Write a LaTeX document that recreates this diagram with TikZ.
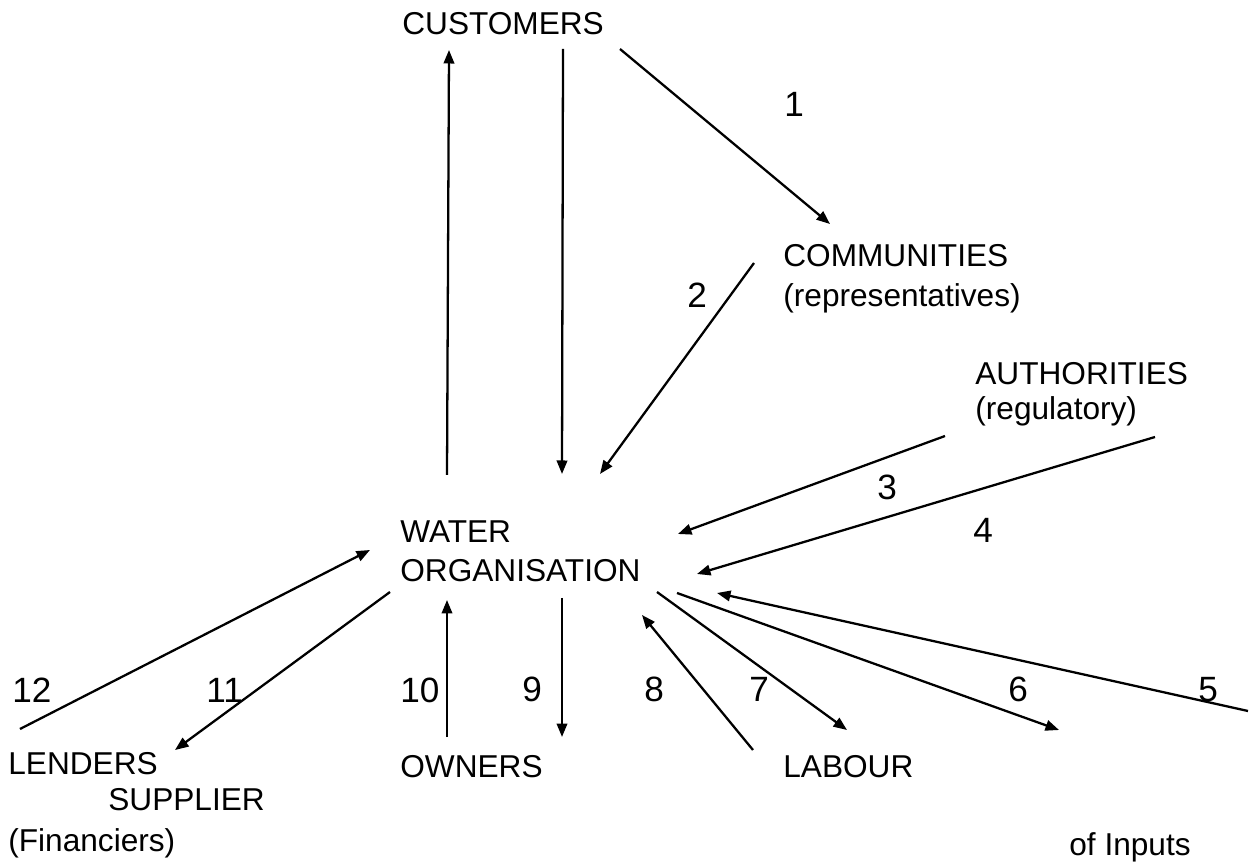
\documentclass[tikz,border=0pt]{standalone}
\usepackage{fontspec}
\setmainfont{Liberation Sans}
\usepackage{tikz}
\usetikzlibrary{arrows.meta,positioning}
\tikzset{
    txt/.style={
        anchor=base west,
        inner sep=0pt,
        font=\fontsize{18}{22}\selectfont
    },
    num/.style={txt, font=\fontsize{20}{24}\selectfont},
    flow/.style={-{Triangle[length=0.27cm,width=0.21cm]}, line width=1.3pt},
    plain/.style={line width=1.3pt}
}

\begin{document}
\begin{tikzpicture}[x=0.02cm, y=-0.02cm]
    \useasboundingbox (0,0) rectangle (1251,864);

    % entidades
    \node[txt] (cust) at (402,35) {CUSTOMERS};
    \node[txt] (comm) at (783,267) {COMMUNITIES};
    \node[below=0.8cm of comm.base west, txt] (commrep) {(representatives)};
    \node[txt] (auth) at (975,385) {AUTHORITIES};
    \node[below=0.7cm of auth.base west, txt] (authreg) {(regulatory)};
    \node[txt] (water) at (400,543) {WATER};
    \node[below=0.78cm of water.base west, txt] (org) {ORGANISATION};
    \node[txt] (lend) at (8,774) {LENDERS};
    \node[txt] (supp) at (108,810) {SUPPLIER};
    \node[below=1.56cm of lend.base west, txt] (fin) {(Financiers)};
    \node[txt] (own) at (400,777) {OWNERS};
    \node[txt] (lab) at (783,777) {LABOUR};
    \node[txt] (inp) at (1069,855) {of Inputs};
    \coordinate (in5) at (1248,711);

    % fluxos
    \draw[flow] ([shift={(47,-107)}]org.base west) -- ([shift={(47,15)}]cust.base west);
    \draw[flow] ([shift={(161,14)}]cust.base west) -- ([shift={(162,-108)}]org.base west);
    \draw[flow] ([shift={(218,14)}]cust.base west) -- ([shift={(47,-43)}]comm.base west);
    \draw[flow] ([shift={(-29,-4)}]comm.base west) -- ([shift={(200,-108)}]org.base west);
    \draw[flow] ([shift={(-30,51)}]auth.base west) -- ([shift={(278,-48)}]org.base west);
    \draw[flow] ([shift={(180,52)}]auth.base west) -- ([shift={(297,-8)}]org.base west);
    \draw[flow] (in5) -- ([shift={(317,11)}]org.base west);
    \draw[flow] ([shift={(277,11)}]org.base west) -- ([shift={(-10,-125)}]inp.base west);
    \draw[flow] ([shift={(257,10)}]org.base west) -- ([shift={(64,-47)}]lab.base west);
    \draw[flow] ([shift={(-30,-27)}]lab.base west) -- ([shift={(242,33)}]org.base west);
    \draw[flow] ([shift={(162,16)}]org.base west) -- ([shift={(162,-40)}]own.base west);
    \draw[flow] ([shift={(47,-40)}]own.base west) -- ([shift={(47,18)}]org.base west);
    \draw[flow] ([shift={(-10,10)}]org.base west) -- ([shift={(167,-24)}]lend.base west);
    \draw[flow] ([shift={(12,-45)}]lend.base west) -- ([shift={(-30,-32)}]org.base west);

    % numeros
    \node[num] (n1) at (784,117) {1};
    \node[num] (n2) at (687,308) {2};
    \node[num] (n3) at (877,500) {3};
    \node[num] (n4) at (973,543) {4};
    \node[num] (n5) at (1198,701) {5};
    \node[num] (n6) at (1008,701) {6};
    \node[num] (n7) at (749,701) {7};
    \node[num] (n8) at (644,701) {8};
    \node[num] (n9) at (522,701) {9};
    \node[num] (n10) at (400,702) {10};
    \node[num] (n11) at (206,702) {11};
    \node[num] (n12) at (12,702) {12};
\end{tikzpicture}
\end{document}
